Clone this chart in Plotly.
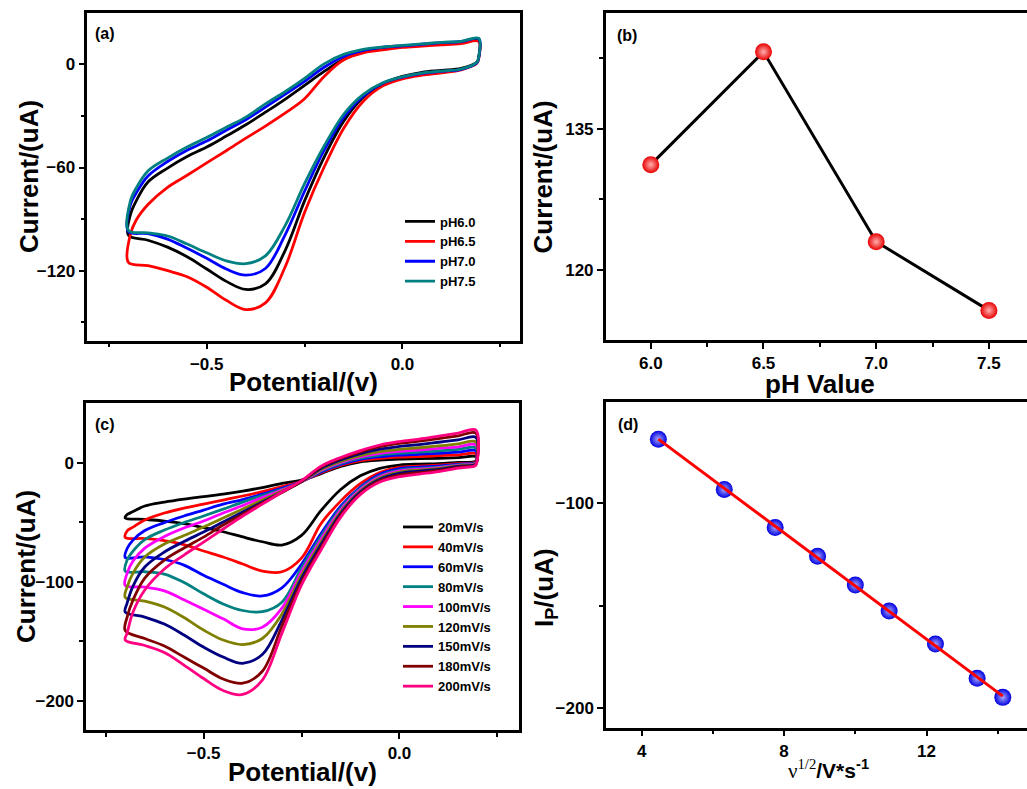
import numpy as np
import plotly.graph_objects as go

# ---------------- data ----------------
# shared potential grids (V) for the two branches of each cyclic voltammogram
E_up = [-0.70, -0.695, -0.68, -0.65, -0.60, -0.55, -0.50, -0.45, -0.40, -0.35, -0.30,
        -0.25, -0.20, -0.15, -0.10, -0.05, 0.00, 0.05, 0.10, 0.15, 0.195]
E_down = [0.195, 0.19, 0.15, 0.10, 0.05, 0.00, -0.05, -0.10, -0.15, -0.20, -0.25,
          -0.30, -0.35, -0.40, -0.45, -0.50, -0.55, -0.60, -0.65, -0.70]

# panel (a): CVs at different pH (current, uA)
ph_labels = ["pH6.0", "pH6.5", "pH7.0", "pH7.5"]
ph60_up = [-99.4, -87.5, -79.4, -68.4, -60.3, -53.6, -48.1, -41.7, -35.1, -27.8, -20.3,
           -12.2, -4.1, 2.9, 7.2, 9.3, 10.4, 11.3, 12.2, 12.9, 14.2]
ph60_down = [4.6, 1.2, -2.3, -3.5, -4.6, -7.0, -11.3, -19.1, -33.0, -53.9, -79.4,
             -108.4, -127.7, -130.9, -126.2, -119.0, -111.9, -106.3, -102.3, -99.4]
ph65_up = [-115.2, -99.0, -90.5, -81.5, -71.5, -64.5, -57.3, -50.2, -42.9, -35.9, -28.4,
           -20.0, -7.0, 2.7, 6.7, 8.4, 9.9, 10.6, 11.3, 12.1, 13.3]
ph65_down = [3.5, 0.6, -3.2, -4.9, -6.3, -8.4, -12.5, -21.4, -37.1, -59.7, -86.1,
             -118.0, -138.7, -142.6, -137.2, -129.6, -123.5, -120.0, -117.0, -115.2]
ph70_up = [-97.2, -81.7, -74.8, -64.9, -56.5, -49.9, -44.6, -38.3, -32.2, -24.9, -17.4,
           -9.9, -1.7, 4.6, 8.1, 9.9, 10.8, 11.7, 12.6, 13.3, 14.8]
ph70_down = [4.1, 0.9, -2.9, -4.1, -5.2, -7.4, -11.0, -18.3, -30.7, -49.9, -73.8,
             -99.3, -118.7, -122.6, -119.0, -112.8, -107.0, -101.6, -98.4, -97.2]
ph75_up = [-96.5, -79.5, -71.9, -62.0, -54.5, -48.1, -42.6, -36.6, -30.7, -23.0, -15.9,
           -8.1, 0.3, 5.8, 8.7, 10.1, 11.1, 11.9, 12.8, 13.4, 15.1]
ph75_down = [4.6, 1.2, -2.7, -3.9, -5.1, -7.2, -10.7, -17.4, -29.0, -47.5, -69.4,
             -93.9, -111.4, -115.9, -114.3, -109.6, -104.5, -99.8, -98.0, -96.5]

# panel (b): peak current vs pH
pH_values = [6.0, 6.5, 7.0, 7.5]
pH_current = [131.2, 143.2, 123.0, 115.7]

# panel (c): CVs at different scan rates (current, uA)
rate_labels = ["20mV/s", "40mV/s", "60mV/s", "80mV/s", "100mV/s",
               "120mV/s", "150mV/s", "180mV/s", "200mV/s"]
r20_up = [-46.4, -43.5, -41.0, -36.3, -33.0, -30.5, -28.4, -26.3, -23.8, -20.8, -17.3,
          -14.5, -9.1, -3.0, 0.8, 2.3, 3.1, 3.4, 3.8, 4.3, 5.0]
r20_down = [1.5, 0.8, 0.2, -0.7, -1.1, -1.9, -4.7, -11.0, -22.5, -40.0, -61.0,
            -69.1, -66.3, -62.3, -57.9, -54.4, -51.0, -48.9, -47.5, -46.4]
r40_up = [-62.6, -57.3, -54.0, -48.1, -42.2, -38.0, -34.7, -31.3, -27.9, -24.2, -20.1,
          -15.5, -8.4, -2.2, 1.8, 3.7, 4.7, 5.2, 5.9, 6.6, 7.5]
r40_down = [0.8, 0.0, -0.7, -2.0, -2.8, -3.9, -8.2, -17.6, -32.2, -51.0, -80.0,
            -91.5, -91.0, -85.0, -79.1, -74.1, -68.7, -65.3, -63.6, -62.6]
r60_up = [-79.5, -72.0, -64.9, -56.9, -50.2, -44.7, -39.7, -34.7, -30.9, -26.3, -21.5,
          -15.8, -7.7, -1.4, 2.9, 5.1, 6.4, 7.1, 7.9, 8.9, 10.0]
r60_down = [0.4, -0.4, -1.3, -2.8, -3.7, -4.9, -9.6, -20.4, -36.4, -59.4, -85.2,
            -105.0, -111.8, -109.0, -102.0, -94.5, -85.9, -81.2, -79.0, -79.5]
r80_up = [-91.0, -81.7, -74.1, -64.5, -56.5, -50.2, -44.7, -38.9, -33.0, -27.5, -22.3,
          -16.0, -7.0, -0.5, 3.9, 6.5, 8.0, 8.9, 10.0, 11.2, 12.5]
r80_down = [0.0, -0.8, -1.8, -3.6, -4.7, -6.1, -11.0, -21.5, -38.0, -61.7, -88.4,
            -117.0, -125.0, -124.0, -118.5, -110.0, -100.5, -93.4, -91.5, -91.0]
r100_up = [-103.0, -92.6, -82.5, -71.6, -61.9, -54.8, -48.9, -42.2, -35.9, -29.2, -22.9,
           -16.0, -6.3, 0.3, 5.0, 7.9, 9.6, 10.7, 12.1, 13.4, 14.9]
r100_down = [-0.3, -1.1, -2.2, -4.1, -5.4, -6.9, -11.8, -22.6, -39.6, -64.1, -91.4,
             -122.0, -138.0, -139.5, -131.0, -123.0, -115.0, -107.5, -104.3, -103.0]
r120_up = [-113.0, -104.3, -92.6, -79.1, -68.2, -61.1, -54.0, -46.4, -38.9, -31.3, -23.8,
           -16.0, -5.6, 1.1, 6.0, 9.3, 11.3, 12.6, 14.1, 15.8, 17.5]
r120_down = [-0.6, -1.5, -2.6, -4.7, -6.1, -7.8, -12.8, -23.7, -41.2, -66.5, -94.4,
             -127.0, -147.5, -152.6, -148.8, -140.4, -129.9, -121.1, -116.1, -113.0]
r150_up = [-125.3, -117.8, -103.5, -87.5, -74.9, -66.1, -58.2, -49.8, -41.4, -33.0, -24.6,
           -15.8, -4.6, 2.3, 7.6, 11.4, 13.7, 15.3, 17.2, 19.2, 21.2]
r150_down = [-1.0, -1.9, -3.1, -5.5, -7.1, -8.9, -13.8, -24.7, -42.6, -68.6, -97.0,
             -132.0, -161.0, -168.3, -163.1, -154.7, -144.6, -135.4, -129.5, -125.3]
r180_up = [-140.8, -129.5, -115.2, -96.8, -81.7, -71.6, -62.4, -52.3, -43.1, -33.8, -25.0,
           -15.6, -3.5, 3.6, 9.2, 13.5, 16.2, 18.1, 20.3, 22.6, 24.9]
r180_down = [-1.5, -2.5, -3.8, -6.5, -8.3, -10.3, -15.0, -25.8, -44.2, -71.0, -100.0,
             -137.0, -175.0, -185.0, -181.5, -172.3, -163.1, -153.8, -147.5, -140.8]
r200_up = [-148.8, -142.9, -125.3, -106.8, -89.2, -77.5, -66.6, -55.6, -44.7, -34.7, -24.6,
           -15.0, -2.8, 4.4, 10.2, 14.9, 17.8, 19.9, 22.4, 24.9, 27.4]
r200_down = [-2.0, -3.0, -4.5, -7.4, -9.5, -11.7, -16.2, -26.7, -45.6, -73.0, -102.6,
             -143.0, -182.4, -194.5, -191.2, -181.1, -169.8, -159.3, -153.4, -148.8]

# panel (d): peak current vs square root of scan rate
sqrt_rate = [4.47, 6.32, 7.75, 8.94, 10.0, 10.95, 12.25, 13.42, 14.14]
peak_current = [-68.7, -93.2, -111.8, -125.8, -139.9, -152.6, -168.7, -185.4, -194.7]

# ---------------- styling ----------------
FONT = "Liberation Sans, Arial, sans-serif"
ph_colors = ["#000000", "#ff0000", "#0000ff", "#008080"]
rate_colors = ["#000000", "#ff0000", "#0000ff", "#008080", "#ff00ff",
               "#808000", "#000080", "#800000", "#ff0080"]

ph_branches = [(ph60_up, ph60_down), (ph65_up, ph65_down),
               (ph70_up, ph70_down), (ph75_up, ph75_down)]
rate_branches = [(r20_up, r20_down), (r40_up, r40_down), (r60_up, r60_down),
                 (r80_up, r80_down), (r100_up, r100_down), (r120_up, r120_down),
                 (r150_up, r150_down), (r180_up, r180_down), (r200_up, r200_down)]

fig = go.Figure()

for name, col, (up, dn) in zip(ph_labels, ph_colors, ph_branches):
    fig.add_trace(go.Scatter(x=E_up + E_down, y=up + dn, mode="lines", name=name,
                             line=dict(color=col, width=2.8, shape="spline", smoothing=1.0),
                             xaxis="x", yaxis="y", legend="legend"))

fig.add_trace(go.Scatter(x=pH_values, y=pH_current, mode="lines+markers", showlegend=False,
                         line=dict(color="black", width=3),
                         marker=dict(size=17, color="#e80000",
                                     gradient=dict(type="radial", color="#ffb0b0"),
                                     line=dict(width=0)),
                         xaxis="x2", yaxis="y2"))

for name, col, (up, dn) in zip(rate_labels, rate_colors, rate_branches):
    fig.add_trace(go.Scatter(x=E_up + E_down, y=up + dn, mode="lines", name=name,
                             line=dict(color=col, width=2.8, shape="spline", smoothing=1.0),
                             xaxis="x3", yaxis="y3", legend="legend2"))

slope, intercept = np.polyfit(sqrt_rate, peak_current, 1)
fit_x = [min(sqrt_rate), max(sqrt_rate)]
fig.add_trace(go.Scatter(x=sqrt_rate, y=peak_current, mode="markers", showlegend=False,
                         marker=dict(size=17, color="#0000e0",
                                     gradient=dict(type="radial", color="#a8a8ff"),
                                     line=dict(width=0)),
                         xaxis="x4", yaxis="y4"))
fig.add_trace(go.Scatter(x=fit_x, y=[slope * v + intercept for v in fit_x], mode="lines",
                         showlegend=False, line=dict(color="#ff0000", width=3),
                         xaxis="x4", yaxis="y4"))

W, H = 1027, 789


def px_x(p):
    return p / W


def px_y(p):
    return 1 - p / H


tickfont = dict(family=FONT, size=17, color="black", weight="bold")


def axis(domain, rng, dtick, minor, fmt=None, mirror=True, anchor=None):
    d = dict(domain=domain, range=rng, dtick=dtick, tick0=0, showgrid=False, zeroline=False,
             showline=True, linecolor="black", linewidth=2.5, mirror=mirror,
             ticks="outside", ticklen=6, tickwidth=2, tickcolor="black",
             tickfont=tickfont, anchor=anchor,
             minor=dict(dtick=minor, tick0=0, ticks="outside", ticklen=4, tickwidth=2,
                        tickcolor="black", showgrid=False))
    if fmt:
        d["tickformat"] = fmt
    return d


legend_font = dict(family=FONT, size=13, color="black", weight="bold")

fig.update_layout(
    width=W, height=H, margin=dict(l=0, r=0, t=0, b=0),
    paper_bgcolor="white", plot_bgcolor="white",
    xaxis=axis([px_x(87.3), px_x(519.5)], [-0.805, 0.299], 0.5, 0.25, ".1f", anchor="y"),
    yaxis=axis([px_y(340.7), px_y(13.3)], [-160.7, 29.7], 60, 30, anchor="x"),
    xaxis2=axis([px_x(605.7), 1.0], [5.8, 7.669], 0.5, 0.25, ".1f", anchor="y2"),
    yaxis2=axis([px_y(340.0), px_y(13.3)], [112.55, 147.3], 15, 7.5, mirror=False, anchor="x2"),
    xaxis3=axis([px_x(86.0), px_x(519.0)], [-0.8, 0.305], 0.5, 0.25, ".1f", anchor="y3"),
    yaxis3=axis([px_y(730.0), px_y(403.3)], [-224.3, 49.9], 100, 50, anchor="x3"),
    xaxis4=axis([px_x(606.0), 1.0], [3.0, 14.82], 4, 2, anchor="y4"),
    yaxis4=axis([px_y(727.7), px_y(402.3)], [-209.5, -50.7], 100, 50, mirror=False, anchor="x4"),
    legend=dict(x=px_x(400), y=px_y(206.5), xanchor="left", yanchor="top",
                bgcolor="rgba(0,0,0,0)", font=legend_font, itemwidth=30, tracegroupgap=0),
    legend2=dict(x=px_x(398), y=px_y(512), xanchor="left", yanchor="top",
                 bgcolor="rgba(0,0,0,0)", font=legend_font, itemwidth=30, tracegroupgap=0),
    showlegend=True,
)

title_font = dict(family=FONT, size=26, color="black", weight="bold")
label_font = dict(family=FONT, size=16, color="black", weight="bold")

annotations = [
    dict(text="Current/(uA)", x=px_x(28.5), y=px_y(176.5), textangle=-90, font=title_font),
    dict(text="Potential/(v)", x=px_x(303), y=px_y(382), font=title_font),
    dict(text="Current/(uA)", x=px_x(542.5), y=px_y(177), textangle=-90, font=title_font),
    dict(text="pH Value", x=px_x(820), y=px_y(384), font=title_font),
    dict(text="Current/(uA)", x=px_x(26), y=px_y(567), textangle=-90, font=title_font),
    dict(text="Potential/(v)", x=px_x(302.5), y=px_y(772), font=title_font),
    dict(text="I<sub>P</sub>/(uA)", x=px_x(545), y=px_y(588), textangle=-90, font=title_font),
    dict(text="<span style='font-family:Liberation Serif;font-weight:normal'>ν<sup>1/2</sup></span>/V*s<sup>-1</sup>",
         x=px_x(828), y=px_y(769), font=dict(family=FONT, size=21, color="black", weight="bold")),
    dict(text="(a)", x=px_x(93), y=px_y(33.5), xanchor="left", font=label_font),
    dict(text="(b)", x=px_x(615), y=px_y(35), xanchor="left", font=label_font),
    dict(text="(c)", x=px_x(93), y=px_y(424.5), xanchor="left", font=label_font),
    dict(text="(d)", x=px_x(616), y=px_y(424.5), xanchor="left", font=label_font),
]
for a in annotations:
    a.setdefault("xanchor", "center")
    a.update(xref="paper", yref="paper", showarrow=False, yanchor="middle")
fig.update_layout(annotations=annotations)

fig.write_html("out.html")
